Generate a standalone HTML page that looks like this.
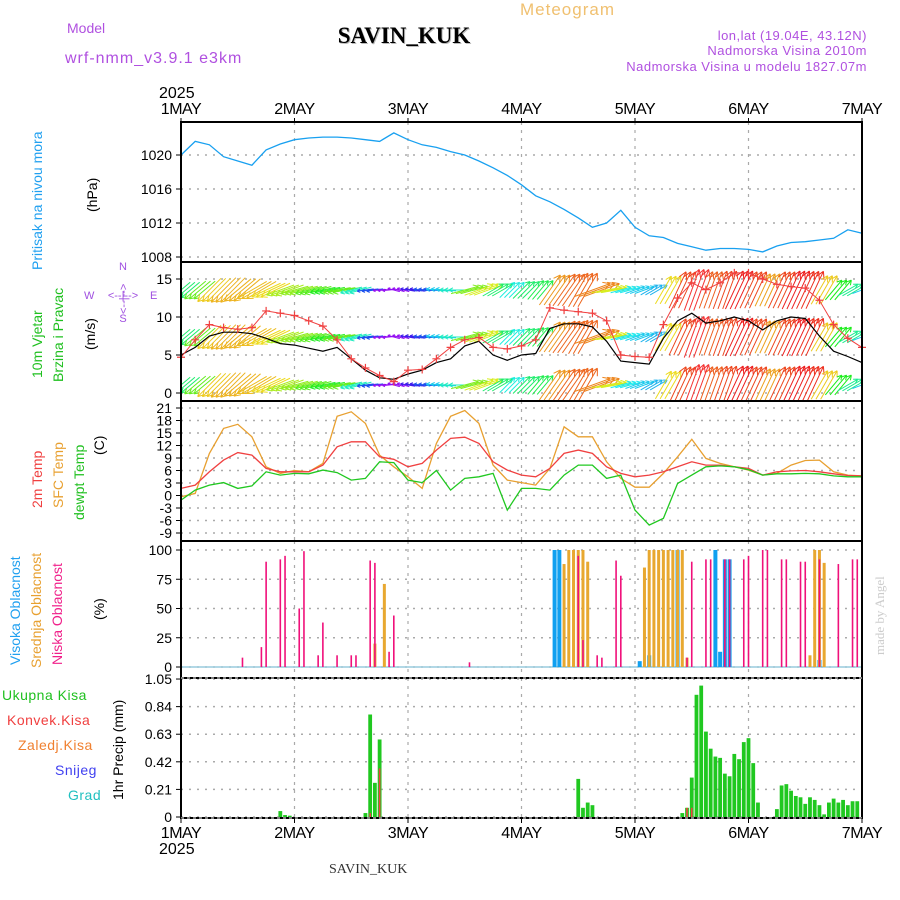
<!DOCTYPE html>
<html><head><meta charset="utf-8"><style>
body{margin:0;background:#fff;}
svg{display:block;font-family:"Liberation Sans",sans-serif;}
</style></head><body>
<svg id="chart" width="900" height="900" viewBox="0 0 900 900">
<defs><clipPath id="clipW"><rect x="181" y="263" width="681" height="137"/></clipPath></defs>
<g>
<text x="520" y="15" fill="#f0c070" font-size="17" letter-spacing="1">Meteogram</text>
<text x="67" y="33" fill="#b050e0" font-size="14">Model</text>
<text x="65" y="63" fill="#b050e0" font-size="16" letter-spacing="1">wrf-nmm_v3.9.1 e3km</text>
<text x="405" y="44" fill="#bbb" font-size="23" font-weight="bold" font-family="Liberation Serif, serif" text-anchor="middle">SAVIN_KUK</text>
<text x="404" y="43" fill="#000" font-size="23" font-weight="bold" font-family="Liberation Serif, serif" text-anchor="middle">SAVIN_KUK</text>
<text x="867" y="40" fill="#b050e0" font-size="13" text-anchor="end" letter-spacing="0.5">lon,lat (19.04E, 43.12N)</text>
<text x="867" y="55" fill="#b050e0" font-size="13" text-anchor="end" letter-spacing="0.5">Nadmorska Visina 2010m</text>
<text x="867" y="71" fill="#b050e0" font-size="13" text-anchor="end" letter-spacing="0.5">Nadmorska Visina u modelu 1827.07m</text>
<text x="159" y="98" font-size="16">2025</text>
<text x="329" y="873" font-size="14" font-family="Liberation Serif, serif" fill="#333">SAVIN_KUK</text>
<text transform="translate(884,655) rotate(-90)" font-size="13" fill="#ccc" font-family="Liberation Serif, serif">made by Angel</text>
</g>
<g>
<text transform="translate(42,270) rotate(-90)" fill="#20a0f0" font-size="14">Pritisak na nivou mora</text>
<text transform="translate(97,212) rotate(-90)" font-size="14">(hPa)</text>
<text transform="translate(42,378) rotate(-90)" fill="#20c020" font-size="14">10m Vjetar</text>
<text transform="translate(63,382) rotate(-90)" fill="#20c020" font-size="14">Brzina i Pravac</text>
<text transform="translate(95,350) rotate(-90)" font-size="14">(m/s)</text>
<g fill="#a050e0" font-size="11">
<text x="123" y="270" text-anchor="middle">N</text><text x="123" y="322" text-anchor="middle">S</text>
<text x="84" y="299">W</text><text x="150" y="299">E</text>
<text x="123" y="299" text-anchor="middle">&lt;--|--&gt;</text>
<text transform="translate(127,314) rotate(-90)">&lt;--|--&gt;</text>
</g>
<text transform="translate(42,508) rotate(-90)" fill="#f04040" font-size="14">2m Temp</text>
<text transform="translate(63,508) rotate(-90)" fill="#e8a030" font-size="14">SFC Temp</text>
<text transform="translate(84,520) rotate(-90)" fill="#20c020" font-size="14">dewpt Temp</text>
<text transform="translate(104,455) rotate(-90)" font-size="14">(C)</text>
<text transform="translate(20,665) rotate(-90)" fill="#20a0f0" font-size="14">Visoka Oblacnost</text>
<text transform="translate(41,668) rotate(-90)" fill="#e8a030" font-size="14">Srednja Oblacnost</text>
<text transform="translate(62,665) rotate(-90)" fill="#f0208a" font-size="14">Niska Oblacnost</text>
<text transform="translate(104,620) rotate(-90)" font-size="14">(%)</text>
<text x="2" y="700" fill="#20c020" font-size="14" letter-spacing="0.5">Ukupna Kisa</text>
<text x="7" y="725" fill="#f04040" font-size="14" letter-spacing="0.5">Konvek.Kisa</text>
<text x="18" y="750" fill="#f08030" font-size="14" letter-spacing="0.5">Zaledj.Kisa</text>
<text x="55" y="775" fill="#4040f0" font-size="14" letter-spacing="0.5">Snijeg</text>
<text x="68" y="800" fill="#20c0c0" font-size="14" letter-spacing="0.5">Grad</text>
<text transform="translate(123,800) rotate(-90)" font-size="14">1hr Precip (mm)</text>
</g>
</svg>
<script>
const dayLabels=["1MAY","2MAY","3MAY","4MAY","5MAY","6MAY","7MAY"];
const pressure=[1020.0,1021.6,1021.2,1019.8,1019.3,1018.8,1020.6,1021.3,1021.8,1022.0,1022.1,1022.1,1022.0,1021.8,1021.6,1022.6,1021.8,1021.2,1020.9,1020.4,1020.0,1019.3,1018.5,1017.6,1016.5,1015.2,1014.5,1013.6,1012.6,1011.5,1012.0,1013.5,1011.5,1010.5,1010.3,1009.6,1009.2,1008.8,1009.0,1009.0,1008.9,1008.6,1009.3,1009.7,1009.8,1010.0,1010.2,1011.2,1010.8];
const pressureTicks=[1008,1012,1016,1020];
const gust=[4.7,7,9,8.6,8.4,8.6,10.8,10.5,10.2,9.5,8.8,7,4.5,3.3,2.3,1.5,3,3.1,4.5,6,7,7.3,6,5.8,6.2,7,11.2,10.9,10.7,10.5,9.5,5,4.8,4.7,9,12.5,14.5,13.6,14.5,15.8,15.8,15,14.3,14,13.8,12.2,9,7.2,6];
const speed=[5,6,7.5,8,8,7.8,7.2,6.5,6.3,5.9,5.5,6,4.5,3,2,1.8,2.5,3,4,4.5,6.2,6.8,5,4.3,5,5.2,8.5,9.1,9.1,8.7,6.8,4.2,4,3.8,7.2,9.5,10.5,9.2,9.5,10,9.5,8.3,9.5,10,9.8,7.5,5.5,4.8,4];
const windDirTo=[230,230,225,225,230,240,245,250,255,255,258,260,255,262,265,285,280,275,275,270,75,70,60,45,45,40,35,35,30,70,80,75,70,60,30,25,20,20,20,25,25,25,25,25,25,30,40,60,70];
const windTicks=[0,5,10,15];
const t2m=[1.7,2.5,5.7,8.5,10.3,9.7,6.5,5.7,5.7,5.7,7.3,11.7,12.9,12.9,9.3,8.7,6.9,7.7,10.9,13.7,14,12.5,8.1,6.1,4.9,4.5,6.5,10.1,10.9,10.1,6.9,5.3,4.5,4.9,5.7,6.9,8.1,7.3,7.3,6.9,6.5,4.9,5.7,5.9,6.0,5.7,5.2,4.8,4.7];
const tsfc=[-0.3,0.5,10.1,16.1,17.1,14.1,6.9,5.3,6,5.7,7.7,19,20.1,17.3,9.7,6.9,4.5,1.7,12.5,19,20.4,17.3,7.3,3.7,3.1,2.5,6.5,16.5,14.1,14.1,8.1,4.1,2,2,5.3,9.3,13.5,8.9,7.7,6.9,6.1,4.9,5.3,7.3,8.4,8.5,5.7,4.9,4.7];
const tdew=[-1.1,1.3,2.5,3.1,1.7,2.3,5.7,4.9,5.3,5.2,6.1,5.5,3.7,4.1,8.1,7.9,3.7,3.1,6,1.3,4.1,4.5,5.3,-3.5,1.7,1.7,1.3,4.9,7.3,7.3,4.1,4.9,-3.5,-7.1,-5.5,2.9,4.9,6.9,7.1,6.9,6.2,4.9,5.2,5.2,5.3,5.2,4.7,4.5,4.5];
const tempTicks=[-9,-6,-3,0,3,6,9,12,15,18,21];
const lowHours=[13,17,18,21,22,25,26,29,30,33,36,37,40,41,44,45,61,84,85,88,89,92,93,107,108,111,112,115,116,119,120,123,124,127,128,131,132,135,139,142,143];
const lowVals=[8,17,90,92,95,50,99,10,38,10,10,10,91,89,13,44,4,95,23,10,8,91,78,8,90,92,92,92,92,92,95,100,100,92,92,90,90,92,88,92,92];
const midHours=[41,43,81,82,83,84,85,86,98,99,100,101,102,103,104,105,106,107,133,134,135,136];
const midVals=[20,71,88,100,100,100,100,90,85,100,100,100,100,100,100,100,100,8,10,100,100,89];
const highHours=[79,80,97,99,105,113,114,115,116,135];
const highVals=[100,100,5,10,100,100,13,92,92,6];
const cloudTicks=[0,25,50,75,100];
const precipHours=[21,22,23,39,40,41,42,84,85,86,87,106,107,108,109,110,111,112,113,114,115,116,117,118,119,120,121,122,126,127,128,129,130,131,132,133,134,135,136,137,138,139,140,141,142,143];
const precipVals=[0.045,0.015,0.01,0.03,0.78,0.26,0.59,0.29,0.07,0.11,0.09,0.03,0.07,0.3,0.93,1.0,0.65,0.52,0.46,0.45,0.33,0.31,0.48,0.44,0.57,0.6,0.41,0.11,0.06,0.24,0.25,0.2,0.16,0.15,0.1,0.15,0.13,0.09,0.02,0.11,0.14,0.11,0.13,0.09,0.12,0.12];
const convHours=[40,42,107,108];
const convVals=[0.03,0.37,0.07,0.07];
const precipTicks=[0,0.21,0.42,0.63,0.84,1.05];

const svg=document.getElementById('chart');
const NS='http://www.w3.org/2000/svg';
const X0=181,X1=862;
function xh(h){return X0+h*(X1-X0)/144;}
function xi(i){return xh(i*3);}
const yP=p=>155-(p-1020)*8.5;
const yW=v=>393-7.6*v;
const yT=t=>408+(21-t)*(125/30);
const yC=c=>667-1.17*c;
const yR=v=>817-131.4*v;
function mk(tag,attrs,parent){const e=document.createElementNS(NS,tag);for(const k in attrs)e.setAttribute(k,attrs[k]);(parent||svg).appendChild(e);return e;}

const panels=[[122,262,'pressure'],[262,401,'wind'],[401,541,'temperature'],[541,678,'cloud'],[678,818,'precip']];
function hgrid(vals,yf,name){const g=mk('g',{});


vals.forEach(v=>{const y=yf(v);mk('line',{x1:X0,x2:X1,y1:y,y2:y,stroke:'#aaa','stroke-width':1.5,'stroke-dasharray':'2,6'},g);
mk('line',{x1:X0-5,x2:X0,y1:y,y2:y,stroke:'#000','stroke-width':1},g);
const t=mk('text',{x:X0-9,y:y+5,'text-anchor':'end','font-size':14},g);t.textContent=String(v);});}
panels.forEach(p=>{const g=mk('g',{});


for(let d=1;d<6;d++){const x=xh(d*24);mk('line',{x1:x,x2:x,y1:p[0],y2:p[1],stroke:'#aaa','stroke-width':1.2,'stroke-dasharray':'3,5'},g);}});
hgrid(pressureTicks,yP,'pressure');hgrid(windTicks,yW,'wind');hgrid(tempTicks,yT,'temp');hgrid(cloudTicks,yC,'cloud');
hgrid(precipTicks,yR,'precip');

function line(arr,yf,color,name,w){const pts=arr.map((v,i)=>xi(i).toFixed(1)+','+yf(v).toFixed(1)).join(' ');
const e=mk('polyline',{points:pts,fill:'none',stroke:color,'stroke-width':w||1.3});

return e;}
line(pressure,yP,'#18a0f0','pressure-line');

const stops=[[2,275],[3,225],[4,190],[5.5,120],[7,58],[8.5,35],[10,0]];
function windColor(s){if(s<=stops[0][0])return 'hsl(275,90%,50%)';for(let k=1;k<stops.length;k++){if(s<=stops[k][0]){const a=stops[k-1],b=stops[k];const h=a[1]+(b[1]-a[1])*(s-a[0])/(b[0]-a[0]);return 'hsl('+h.toFixed(0)+',85%,52%)';}}return 'hsl(0,90%,58%)';}
const wg=mk('g',{'clip-path':'url(#clipW)'});


const bands=[290,337,385];
windDirTo.forEach((dir,i)=>{const s=speed[i];const col=windColor(s);const L=6+s*3.6;const r=dir*Math.PI/180;const dx=Math.sin(r)*L,dy=-Math.cos(r)*L;
for(let k=0;k<3;k++){const x=xh(i*3+k);if(x>X1)continue;bands.forEach(yb=>{const x1=x-dx/2,y1=yb-dy/2,x2=x+dx/2,y2=yb+dy/2;
const a=mk('path',{d:`M${x1},${y1}L${x2},${y2}M${x2},${y2}l${(-dx*0.18+dy*0.1).toFixed(1)},${(-dy*0.18-dx*0.1).toFixed(1)}M${x2},${y2}l${(-dx*0.18-dy*0.1).toFixed(1)},${(-dy*0.18+dx*0.1).toFixed(1)}`,stroke:col,'stroke-width':1,fill:'none'},wg);

});}});
line(speed,yW,'#000','wind-speed-line',1.2);
line(gust,yW,'#f04040','wind-gust-line',1);
const gm=mk('g',{});


gust.forEach((v,i)=>{const x=xi(i),y=yW(v);mk('path',{d:`M${x-4},${y}h8M${x},${y-4}v8`,stroke:'#f04040','stroke-width':1.2},gm);});

line(tsfc,yT,'#e8a030','sfc-temp-line');
line(t2m,yT,'#f04040','t2m-line');
line(tdew,yT,'#20c820','dewpoint-line');

function bars(hours,vals,yf,color,w,name){const g=mk('g',{});


hours.forEach((h,i)=>{const x=xh(h);const y=yf(vals[i]);const y0=yf(0);
const r=mk('rect',{x:x-w/2,y:y,width:w,height:y0-y,fill:color},g);

});}
mk('line',{x1:X0,x2:X1,y1:yC(0),y2:yC(0),stroke:'#9cd','stroke-width':1.5});
bars(highHours,highVals,yC,'#10a0f0',4,'high-cloud');
bars(midHours,midVals,yC,'#e8a830',3,'mid-cloud');
bars(lowHours,lowVals,yC,'#f0107a',1.6,'low-cloud');
bars(precipHours,precipVals,yR,'#20c820',3.8,'total-precip');
bars(convHours,convVals,yR,'#f04040',1.6,'convective-precip');

const fg=mk('g',{});


panels.forEach(p=>{mk('rect',{x:X0,y:p[0],width:X1-X0,height:p[1]-p[0],fill:'none',stroke:'#000','stroke-width':2},fg);});
mk('line',{x1:X0,x2:X1,y1:678,y2:678,stroke:'#fff','stroke-width':1,'stroke-dasharray':'3,3'},fg);
mk('line',{x1:X0,x2:X1,y1:818,y2:818,stroke:'#fff','stroke-width':1,'stroke-dasharray':'3,3'},fg);
dayLabels.forEach((d,k)=>{const x=xh(k*24);
const t=mk('text',{x:x,y:114,'text-anchor':'middle','font-size':16,'letter-spacing':'-0.5'});t.textContent=d;


const b=mk('text',{x:x,y:838,'text-anchor':'middle','font-size':16,'letter-spacing':'-0.5'});b.textContent=d;


mk('line',{x1:x,x2:x,y1:118,y2:122,stroke:'#000'});mk('line',{x1:x,x2:x,y1:818,y2:823,stroke:'#000'});});
const yr=mk('text',{x:159,y:854,'font-size':16});yr.textContent='2025';


</script>
</body></html>
